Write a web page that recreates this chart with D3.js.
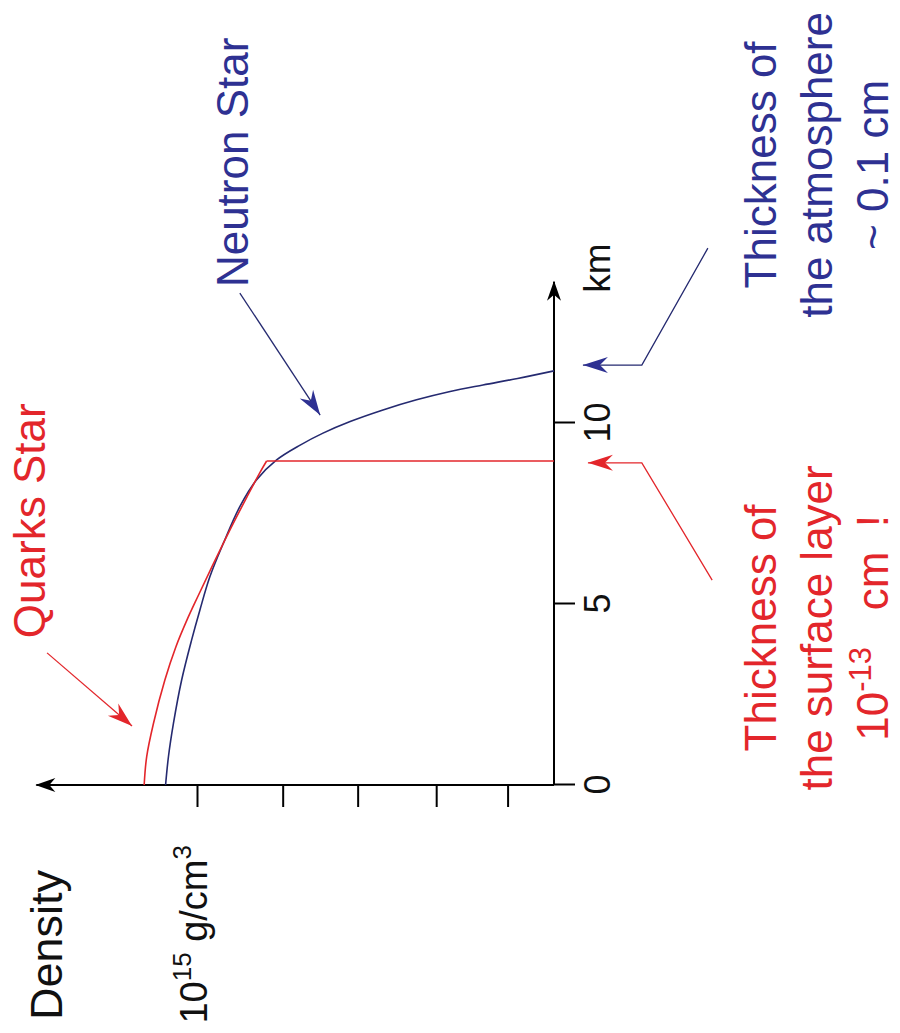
<!DOCTYPE html>
<html>
<head>
<meta charset="utf-8">
<script src="https://cdn.jsdelivr.net/npm/d3@7/dist/d3.min.js"></script>
<style>
  body { margin: 0; background: #fff; }
  svg { display: block; }
  text { font-family: "Liberation Sans", Arial, sans-serif; }
</style>
</head>
<body>
<div id="chart"></div>
<script>
const WIDTH = 900;
const HEIGHT = 1033;
const ORIGIN = [554, 785]; // corner of the two axes on the page

const RED = '#e3262b';
const BLUE = '#2e3192';
const BLUE_LINE = '#252a70';

// x: radius in km, y: density in units of 10^15 g/cm^3
const kmTicks = [0, 5, 10];
const densityTicks = [1.0, 0.76, 0.55, 0.33, 0.13];
const kmAxisEnd = 13.9;
const densityAxisEnd = 1.45;

const quarkKm = [0, 0.78, 1.70, 2.90, 3.82, 4.56, 5.20, 6.03, 7.04, 7.96, 8.61, 8.95];
const quarkDensity = [1.148, 1.141, 1.122, 1.090, 1.059, 1.028, 0.998, 0.958, 0.908, 0.860, 0.825, 0.805];
const quarkSurfaceKm = 8.95;

const neutronKm = [0, 0.78, 1.70, 2.90, 4.01, 4.83, 5.75, 6.68, 7.69, 8.43, 8.98, 9.39, 9.72, 10.04, 10.36, 10.64, 10.87, 11.05, 11.23, 11.44];
const neutronDensity = [1.088, 1.080, 1.066, 1.043, 1.015, 0.992, 0.964, 0.926, 0.880, 0.833, 0.777, 0.711, 0.647, 0.571, 0.479, 0.385, 0.291, 0.199, 0.102, 0];

// annotation arrows, [km, density] from tail to head
const quarkArrow = [[3.65, 1.42], [1.63, 1.182]];
const neutronArrow = [[13.59, 0.88], [10.22, 0.655]];
const surfaceArrow = [[5.66, -0.443], [8.9, -0.246], [8.9, -0.095]];
const atmosphereArrow = [[14.83, -0.431], [11.6, -0.246], [11.6, -0.081]];

const svg = d3.select('#chart').append('svg')
  .attr('width', WIDTH)
  .attr('height', HEIGHT);

const defs = svg.append('defs');
function marker(id, color, path) {
  defs.append('marker')
    .attr('id', id)
    .attr('viewBox', '-28 -10 30 20')
    .attr('refX', 0)
    .attr('refY', 0)
    .attr('markerWidth', 30)
    .attr('markerHeight', 20)
    .attr('markerUnits', 'userSpaceOnUse')
    .attr('orient', 'auto')
    .append('path')
    .attr('d', path)
    .attr('fill', color);
}
marker('head-red', RED, 'M0,0 L-25,-8 L-17,0 L-25,8 Z');
marker('head-blue', BLUE, 'M0,0 L-25,-8 L-17,0 L-25,8 Z');
marker('head-axis', '#000', 'M1,0 L-19,-7 L-13,0 L-19,7 Z');

// the whole plot is turned a quarter turn counter-clockwise
const g = svg.append('g')
  .attr('transform', `translate(${ORIGIN[0]},${ORIGIN[1]}) rotate(-90)`);

const x = d3.scaleLinear().domain([0, 10]).range([0, 362]);
const y = d3.scaleLinear().domain([0, 1]).range([0, -357]);

// axes
const xAxis = g.append('g')
  .call(d3.axisBottom(x).tickValues(kmTicks).tickSize(21).tickPadding(9).tickFormat(d3.format('d')));
xAxis.select('.domain').remove();
xAxis.selectAll('line').attr('stroke', '#000').attr('stroke-width', 2);
xAxis.selectAll('text')
  .attr('fill', '#111')
  .style('font-size', '36px')
  .style('font-family', '"Liberation Sans", Arial, sans-serif');

const yAxis = g.append('g')
  .call(d3.axisLeft(y).tickValues(densityTicks).tickSize(22).tickFormat(''));
yAxis.select('.domain').remove();
yAxis.selectAll('line').attr('stroke', '#000').attr('stroke-width', 2);

g.append('line')
  .attr('x1', x(0)).attr('y1', 0)
  .attr('x2', x(kmAxisEnd)).attr('y2', 0)
  .attr('stroke', '#000').attr('stroke-width', 2)
  .attr('marker-end', 'url(#head-axis)');

g.append('line')
  .attr('x1', 0).attr('y1', y(0))
  .attr('x2', 0).attr('y2', y(densityAxisEnd))
  .attr('stroke', '#000').attr('stroke-width', 2)
  .attr('marker-end', 'url(#head-axis)');

g.append('text')
  .attr('x', x(13.6))
  .attr('y', 30)
  .attr('dy', '0.71em')
  .attr('fill', '#111')
  .style('font-size', '37px')
  .text('km');

const unit = g.append('text')
  .attr('x', -60)
  .attr('y', y(1.0) + 10)
  .attr('text-anchor', 'end')
  .attr('fill', '#111')
  .style('font-size', '38px');
unit.append('tspan').text('10');
unit.append('tspan').attr('dy', -16).style('font-size', '26px').text('15');
unit.append('tspan').attr('dy', 16).text(' g/cm');
unit.append('tspan').attr('dy', -16).style('font-size', '26px').text('3');

g.append('text')
  .attr('x', -85)
  .attr('y', -492)
  .attr('text-anchor', 'end')
  .attr('fill', '#111')
  .style('font-size', '45px')
  .text('Density');

// curves
const line = d3.line()
  .x(d => x(d[0]))
  .y(d => y(d[1]))
  .curve(d3.curveCatmullRom.alpha(0.5));

const quark = d3.zip(quarkKm, quarkDensity);
const neutron = d3.zip(neutronKm, neutronDensity);

g.append('path')
  .attr('d', line(neutron))
  .attr('fill', 'none')
  .attr('stroke', BLUE_LINE)
  .attr('stroke-width', 1.6);

g.append('path')
  .attr('d', line(quark))
  .attr('fill', 'none')
  .attr('stroke', RED)
  .attr('stroke-width', 1.6);

g.append('path')
  .attr('d', d3.line().x(d => x(d[0])).y(d => y(d[1]))([
    [quarkSurfaceKm, quarkDensity[quarkDensity.length - 1]],
    [quarkSurfaceKm, 0]
  ]))
  .attr('fill', 'none')
  .attr('stroke', RED)
  .attr('stroke-width', 1.6);

// annotations
const arrowLine = d3.line().x(d => x(d[0])).y(d => y(d[1]));
function arrow(points, color, head) {
  g.append('path')
    .attr('d', arrowLine(points))
    .attr('fill', 'none')
    .attr('stroke', color)
    .attr('stroke-width', 1.3)
    .attr('marker-end', `url(#${head})`);
}
arrow(quarkArrow, RED, 'head-red');
arrow(neutronArrow, BLUE_LINE, 'head-blue');
arrow(surfaceArrow, RED, 'head-red');
arrow(atmosphereArrow, BLUE_LINE, 'head-blue');

function label(lines, km, density, color) {
  const t = g.append('text')
    .attr('text-anchor', 'middle')
    .attr('fill', color)
    .style('font-size', '44px');
  lines.forEach((parts, i) => {
    parts.forEach((p, j) => {
      const s = t.append('tspan').text(p.text);
      if (j === 0) s.attr('x', x(km)).attr('y', y(density) + i * 56);
      if (p.sup) s.attr('dy', -17).style('font-size', '31px');
      if (p.down) s.attr('dy', 17);
    });
  });
}

label([[{ text: 'Quarks Star' }]], 7.3, 1.426, RED);
label([[{ text: 'Neutron Star' }]], 17.2, 0.857, BLUE);
label([
  [{ text: 'Thickness of' }],
  [{ text: 'the surface layer' }],
  [{ text: '10' }, { text: '-13', sup: true }, { text: '\u00a0\u00a0\u00a0cm\u00a0\u00a0!', down: true }]
], 4.34, -0.622, RED);
label([
  [{ text: 'Thickness of' }],
  [{ text: 'the atmosphere' }],
  [{ text: '~ 0.1 cm' }]
], 17.13, -0.622, BLUE);
</script>
</body>
</html>
